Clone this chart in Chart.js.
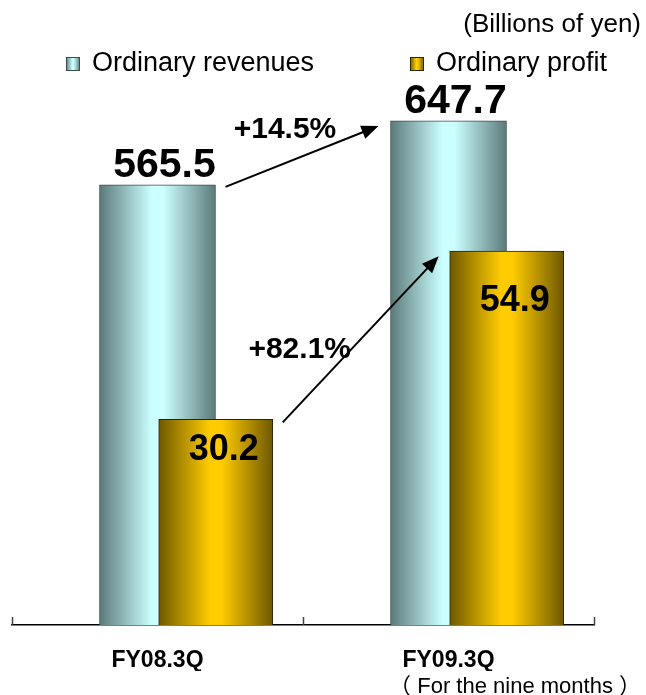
<!DOCTYPE html>
<html lang="en">
<head>
<meta charset="UTF-8">
<title>Ordinary revenues and ordinary profit</title>
<script src="https://cdn.jsdelivr.net/npm/chart.js"></script>
<style>
  html, body { margin: 0; padding: 0; background: #fff; }
  #wrap { position: relative; width: 646px; height: 695px; }
</style>
</head>
<body>
<div id="wrap"><canvas id="chart"></canvas></div>
<script>
// data
const categories = ['FY08.3Q', 'FY09.3Q'];
const revenues = [565.5, 647.7];
const profits = [30.2, 54.9];
const growthLabels = ['+14.5%', '+82.1%'];
const seriesNames = ['Ordinary revenues', 'Ordinary profit'];
const unitLabel = '(Billions of yen)';
const periodNote = '（ For the nine months ）';

// styles
const FONT = '"Liberation Sans", Arial, "Noto Sans CJK JP", sans-serif';
const BAR_W = 116;
const PROFIT_SHIFT = 0.2;          // profit bars sit to the right of the revenue bars
const PROFIT_LABEL_DY = [41, 60];
const REV_COLORS = ['#5b7a7a', '#ccffff'];
const PRO_COLORS = ['#6e5800', '#ffcc00'];

Chart.defaults.font.family = FONT;

function barGradient(ctx, left, right, cols) {
    if (!isFinite(left) || !isFinite(right)) return cols[1];
    const g = ctx.createLinearGradient(left, 0, right, 0);
    g.addColorStop(0, cols[0]);
    g.addColorStop(0.45, cols[1]);
    g.addColorStop(0.55, cols[1]);
    g.addColorStop(1, cols[0]);
    return g;
}

function arrow(ctx, x1, y1, x2, y2) {
    const a = Math.atan2(y2 - y1, x2 - x1);
    const len = 17, half = 7;
    ctx.beginPath();
    ctx.moveTo(x1, y1);
    ctx.lineTo(x2 - Math.cos(a) * (len - 2), y2 - Math.sin(a) * (len - 2));
    ctx.stroke();
    ctx.beginPath();
    ctx.moveTo(x2, y2);
    ctx.lineTo(x2 - Math.cos(a) * len - Math.sin(a) * half, y2 - Math.sin(a) * len + Math.cos(a) * half);
    ctx.lineTo(x2 - Math.cos(a) * len + Math.sin(a) * half, y2 - Math.sin(a) * len - Math.cos(a) * half);
    ctx.closePath();
    ctx.fill();
}

// value labels, growth arrows
const annotations = {
    id: 'annotations',
    afterDatasetsDraw(chart) {
        const ctx = chart.ctx;
        const rev = chart.getDatasetMeta(0).data;
        const pro = chart.getDatasetMeta(1).data;
        ctx.save();
        ctx.fillStyle = '#000';
        ctx.strokeStyle = '#000';
        ctx.lineWidth = 2;
        ctx.textAlign = 'center';
        ctx.textBaseline = 'alphabetic';
        ctx.font = 'bold 41px ' + FONT;
        rev.forEach((el, i) => ctx.fillText(revenues[i].toFixed(1), el.x + 7, el.y - 8));
        ctx.font = 'bold 36px ' + FONT;
        pro.forEach((el, i) => ctx.fillText(profits[i].toFixed(1), el.x + 8, el.y + PROFIT_LABEL_DY[i]));

        const a1 = [rev[0].x + BAR_W / 2 + 10, rev[0].y + 2, rev[1].x - BAR_W / 2 - 12, rev[1].y + 5];
        const a2 = [pro[0].x + BAR_W / 2 + 9, pro[0].y + 3, pro[1].x - BAR_W / 2 - 10, pro[1].y + 5];
        arrow(ctx, ...a1);
        arrow(ctx, ...a2);

        ctx.font = 'bold 30px ' + FONT;
        ctx.textBaseline = 'middle';
        ctx.fillText(growthLabels[0], (a1[0] + a1[2]) / 2 - 17, (a1[1] + a1[3]) / 2 - 27);
        ctx.fillText(growthLabels[1], (a2[0] + a2[2]) / 2 - 61, (a2[1] + a2[3]) / 2 + 10);
        ctx.restore();
    }
};

// legend boxes and the small axis ticks
const decorations = {
    id: 'decorations',
    afterDraw(chart) {
        const ctx = chart.ctx;
        const xs = chart.scales.x;
        ctx.save();
        ctx.strokeStyle = '#444';
        ctx.lineWidth = 1.5;
        [-0.5, 0.5, 1.5].forEach(v => {
            const px = Math.round(xs.getPixelForValue(v)) + 0.5;
            ctx.beginPath();
            ctx.moveTo(px, xs.top - 8);
            ctx.lineTo(px, xs.top);
            ctx.stroke();
        });

        const items = [[66, seriesNames[0], REV_COLORS, '#3c4c4c'], [410, seriesNames[1], PRO_COLORS, '#2e2500']];
        ctx.font = '27px ' + FONT;
        ctx.textBaseline = 'middle';
        ctx.textAlign = 'left';
        items.forEach(([x, text, cols, edge]) => {
            ctx.fillStyle = barGradient(ctx, x, x + 14, cols);
            ctx.fillRect(x, 57, 14, 14);
            ctx.lineWidth = 1;
            ctx.strokeStyle = edge;
            ctx.strokeRect(x + 0.5, 57.5, 13, 13);
            ctx.fillStyle = '#000';
            ctx.fillText(text, x + 26, 64);
        });
        ctx.restore();
    }
};

function gradientFor(shift, width, cols) {
    return (c) => {
        if (c.type !== 'data' || !c.chart.scales.x) return cols[1];
        const cx = c.chart.scales.x.getPixelForValue(c.dataIndex + shift);
        return barGradient(c.chart.ctx, cx - width / 2, cx + width / 2, cols);
    };
}

const ctx = document.getElementById('chart').getContext('2d');
const chart = new Chart(ctx, {
    type: 'bar',
    data: {
        labels: categories,
        datasets: [{
            label: seriesNames[0],
            data: revenues,
            xAxisID: 'x',
            yAxisID: 'y',
            order: 1,
            grouped: false,
            barThickness: BAR_W,
            borderWidth: 1,
            borderColor: '#3c4c4c',
            backgroundColor: gradientFor(0, BAR_W, REV_COLORS)
        }, {
            label: seriesNames[1],
            data: profits.map((v, i) => ({x: i + PROFIT_SHIFT, y: v})),
            xAxisID: 'x2',
            yAxisID: 'y1',
            order: 0,
            grouped: false,
            barThickness: BAR_W - 2,
            borderWidth: 1,
            borderColor: '#2e2500',
            backgroundColor: gradientFor(PROFIT_SHIFT, BAR_W - 2, PRO_COLORS)
        }]
    },
    options: {
        responsive: true,
        maintainAspectRatio: false,
        animation: false,
        layout: { padding: { left: 12, right: 5, top: 0, bottom: -3 } },
        plugins: {
            legend: { display: false },
            tooltip: { enabled: false },
            title: {
                display: true,
                text: unitLabel,
                align: 'end',
                color: '#000',
                font: { size: 26, weight: 'normal' },
                padding: { top: 9, bottom: 40 }
            },
            subtitle: {
                display: true,
                text: periodNote,
                position: 'bottom',
                align: 'end',
                color: '#000',
                font: { size: 22, lineHeight: 1 },
                padding: { top: 5, bottom: 0 }
            }
        },
        scales: {
            x: {
                type: 'category',
                grid: { display: false, drawTicks: false },
                border: { display: true, color: '#000', width: 1.5 },
                ticks: { color: '#000', padding: 24, font: { size: 23, weight: 'bold', lineHeight: 1 } },
                afterFit: (s) => { s.height = 46; }
            },
            x2: {
                type: 'linear',
                display: false,
                offset: false,
                min: -0.5,
                max: 1.5
            },
            y: {
                display: false,
                min: 0,
                max: 700
            },
            y1: {
                position: 'right',
                min: 0,
                max: 80,
                grid: { display: false, drawTicks: false },
                border: { display: false },
                ticks: { display: false },
                afterFit: (s) => { s.width = 47; }
            }
        }
    },
    plugins: [annotations, decorations]
});
</script>
</body>
</html>
